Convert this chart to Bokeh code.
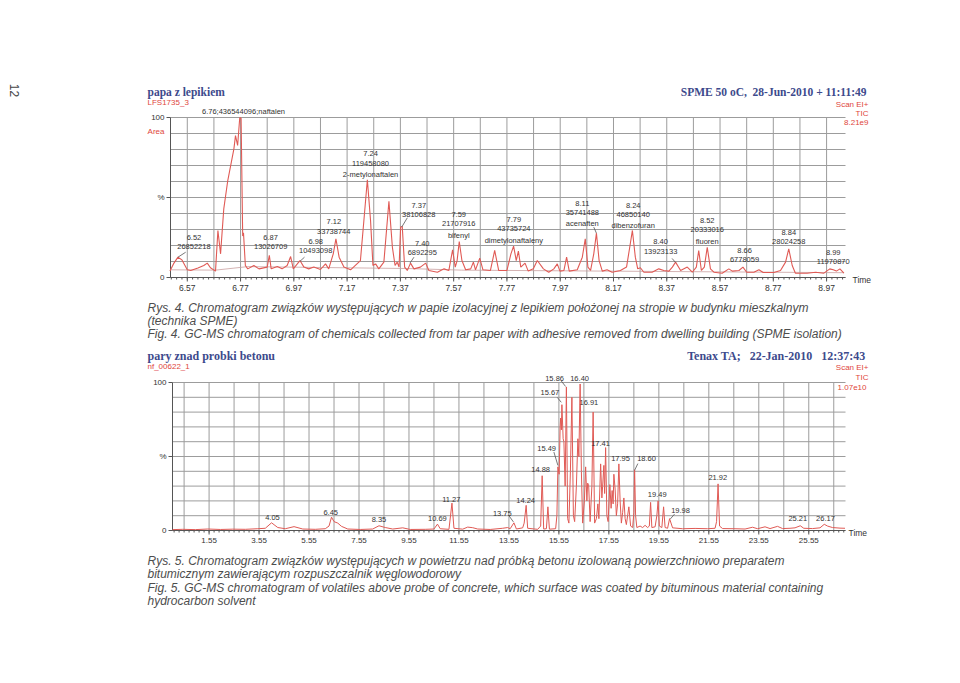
from math import pi
import numpy as np
from bokeh.plotting import figure
from bokeh.models import Range1d, Label, LabelSet, ColumnDataSource
from bokeh.layouts import column
from bokeh.core.properties import value
from bokeh.embed import file_html
from bokeh.resources import INLINE

# ---------------- chart 1 (SPME, tar paper) ----------------
rt1 = [6.505, 6.520, 6.535, 6.550, 6.570, 6.583, 6.610, 6.632, 6.645, 6.657, 6.676, 6.685,
       6.695, 6.707, 6.722, 6.745, 6.751, 6.759, 6.767, 6.772, 6.778, 6.781, 6.788, 6.797,
       6.820, 6.839, 6.870, 6.878, 6.885, 6.908, 6.926, 6.945, 6.958, 6.968, 6.983, 6.993,
       7.008, 7.026, 7.045, 7.070, 7.089, 7.101, 7.118, 7.128, 7.140, 7.158, 7.183, 7.220,
       7.233, 7.246, 7.258, 7.267, 7.277, 7.289, 7.308, 7.327, 7.340, 7.350, 7.358, 7.365,
       7.371, 7.377, 7.386, 7.396, 7.408, 7.421, 7.445, 7.465, 7.477, 7.509, 7.534, 7.552,
       7.566, 7.576, 7.583, 7.591, 7.601, 7.615, 7.634, 7.644, 7.652, 7.668, 7.680, 7.708,
       7.724, 7.739, 7.770, 7.785, 7.795, 7.805, 7.813, 7.822, 7.838, 7.850, 7.869, 7.884,
       7.907, 7.927, 7.946, 7.959, 7.969, 7.984, 7.994, 8.004, 8.034, 8.053, 8.064, 8.074,
       8.084, 8.096, 8.106, 8.116, 8.128, 8.146, 8.165, 8.196, 8.219, 8.231, 8.241, 8.252,
       8.261, 8.271, 8.284, 8.315, 8.340, 8.359, 8.378, 8.391, 8.403, 8.422, 8.447, 8.466,
       8.481, 8.490, 8.500, 8.511, 8.522, 8.534, 8.547, 8.578, 8.603, 8.616, 8.641, 8.656,
       8.670, 8.697, 8.716, 8.732, 8.772, 8.797, 8.816, 8.828, 8.841, 8.853, 8.897, 8.929,
       8.960, 8.982, 8.995, 9.007, 9.020, 9.035]
ab1 = [4.0, 9.0, 12.7, 11.0, 4.8, 4.4, 6.0, 7.5, 9.0, 6.1, 4.0, 29.4,
       14.8, 42.9, 60.6, 80.4, 88.7, 82.5, 100.0, 99.5, 25.9, 28.0, 7.5, 5.4,
       7.5, 5.4, 6.5, 13.8, 5.4, 6.9, 5.4, 7.5, 13.1, 5.4, 8.5, 10.6,
       6.5, 5.4, 6.5, 5.0, 8.5, 5.4, 14.8, 24.2, 12.7, 6.5, 4.8, 10.6,
       35.6, 61.1, 35.6, 7.5, 8.5, 5.4, 9.6, 47.7, 18.9, 7.5, 9.6, 6.5,
       31.5, 31.9, 6.5, 4.4, 9.0, 5.4, 6.5, 9.0, 4.4, 3.3, 5.4, 4.4,
       17.3, 6.5, 10.6, 22.5, 10.6, 4.8, 5.4, 9.6, 4.8, 12.1, 4.8, 4.4,
       16.9, 4.4, 4.4, 14.8, 19.6, 10.6, 16.5, 6.5, 9.0, 4.0, 5.4, 10.6,
       5.4, 3.3, 5.4, 8.5, 4.0, 4.4, 12.7, 4.0, 4.8, 12.7, 24.2, 6.5,
       4.4, 14.8, 27.7, 10.6, 4.0, 4.8, 3.3, 4.4, 6.5, 18.9, 29.4, 12.7,
       5.4, 6.1, 3.3, 3.3, 5.4, 4.4, 4.0, 6.5, 9.6, 4.4, 6.5, 3.3,
       6.5, 16.9, 4.4, 6.5, 18.9, 5.4, 3.3, 2.7, 5.4, 4.0, 4.4, 6.5,
       3.3, 3.3, 4.8, 3.1, 3.1, 4.4, 9.6, 17.9, 7.5, 2.7, 2.7, 3.3,
       2.7, 5.4, 4.8, 4.0, 5.4, 2.7]
base1_t = [6.505, 6.676, 6.797, 7.400, 7.600, 9.035]
base1_y = [4.8, 4.6, 6.8, 5.6, 4.6, 3.0]

peak1_t = [6.781, 6.595, 6.883, 7.052, 7.120, 7.258, 7.439, 7.452, 7.589, 7.796,
           8.053, 8.244, 8.347, 8.522, 8.662, 8.828, 8.995]
peak1_y = [106.3, 26.7, 26.7, 24.2, 36.3, 78.8, 46.4, 23.1, 40.8, 37.7,
           48.1, 46.7, 23.8, 37.1, 18.3, 29.8, 17.5]
peak1_txt = ["6.76;436544096;naftalen", "6.52\n26852218", "6.87\n13026709",
             "6.98\n10493098", "7.12\n33738744", "7.24\n119458080\n2-metylonaftalen",
             "7.37\n38106828", "7.40\n6892295", "7.59\n21707916\nbifenyl",
             "7.79\n43735724\ndimetylonaftaleny", "8.11\n35741488\nacenaften",
             "8.24\n46850140\ndibenzofuran", "8.40\n13923133", "8.52\n20333016\nfluoren",
             "8.66\n6778059", "8.84\n28024258", "8.99\n11970870"]
lead1_t0 = [6.564, 7.010, 7.396, 7.421, 8.096, 8.390]
lead1_y0 = [15.8, 12.7, 37.3, 12.7, 31.5, 11.9]
lead1_t1 = [6.535, 6.993, 7.375, 7.406, 8.106, 8.403]
lead1_y1 = [12.7, 10.1, 31.5, 9.0, 27.7, 9.4]
xtick1 = [6.57, 6.77, 6.97, 7.17, 7.37, 7.57, 7.77, 7.97, 8.17, 8.37, 8.57, 8.77, 8.97]
xtick1_lab = ["6.57", "6.77", "6.97", "7.17", "7.37", "7.57", "7.77", "7.97", "8.17",
              "8.37", "8.57", "8.77", "8.97"]

# ---------------- chart 2 (Tenax TA, concrete) ----------------
rt2 = [0.09, 0.5, 1.0, 1.5, 2.0, 2.5, 3.0, 3.5, 3.8, 4.05, 4.3, 4.6, 4.95, 5.3, 5.8, 6.2,
       6.35, 6.45, 6.55, 6.7, 6.85, 7.1, 7.6, 8.1, 8.35, 8.6, 8.9, 9.3, 9.6, 10.2, 10.55,
       10.69, 10.8, 11.15, 11.27, 11.35, 11.7, 11.9, 12.1, 12.3, 12.8, 13.3, 13.5, 13.6,
       13.75, 13.85, 14.1, 14.16, 14.24, 14.3, 14.7, 14.82, 14.88, 14.94, 15.05, 15.11,
       15.17, 15.42, 15.47, 15.51, 15.56, 15.6, 15.62, 15.65, 15.67, 15.72, 15.75, 15.8,
       15.85, 15.9, 15.95, 16.01, 16.07, 16.13, 16.18, 16.25, 16.31, 16.35, 16.40, 16.45,
       16.5, 16.57, 16.62, 16.67, 16.70, 16.74, 16.8, 16.87, 16.92, 16.98, 17.05, 17.11,
       17.15, 17.22, 17.27, 17.3, 17.35, 17.38, 17.42, 17.47, 17.52, 17.59, 17.64, 17.68,
       17.72, 17.75, 17.8, 17.85, 17.9, 17.95, 18.0, 18.05, 18.1, 18.15, 18.2, 18.25,
       18.3, 18.35, 18.42, 18.5, 18.55, 18.58, 18.62, 18.67, 18.8, 18.9, 19.0, 19.1,
       19.17, 19.22, 19.27, 19.4, 19.47, 19.52, 19.57, 19.67, 19.74, 19.8, 19.9, 19.98,
       20.1, 20.5, 21.0, 21.5, 21.8, 21.86, 21.92, 21.98, 22.1, 22.6, 23.0, 23.3, 23.5,
       23.8, 24.0, 24.3, 24.5, 24.8, 25.0, 25.21, 25.35, 25.7, 26.0, 26.17, 26.3, 26.5,
       26.8, 27.0]
ab2 = [0.6, 0.8, 0.6, 1.0, 0.7, 0.9, 0.8, 1.2, 1.5, 5.2, 2.0, 1.2, 2.6, 1.0, 0.8, 1.2,
       3.0, 9.0, 6.0, 5.0, 2.8, 1.0, 0.7, 1.0, 3.2, 2.0, 1.0, 1.8, 0.7, 0.8, 1.0,
       4.3, 1.2, 0.8, 18.5, 1.5, 0.9, 2.3, 1.9, 1.0, 0.7, 1.5, 2.0, 1.2,
       5.2, 1.0, 1.8, 5.0, 17.0, 1.5, 0.8, 3.0, 37.0, 1.0, 1.2, 16.0,
       0.9, 1.2, 10.0, 43.0, 38.0, 70.0, 76.0, 68.0, 85.0, 62.0, 60.0, 30.0,
       97.0, 8.0, 5.0, 40.0, 90.0, 10.0, 6.0, 30.0, 62.0, 50.0, 99.0, 40.0,
       5.0, 20.0, 43.0, 20.0, 32.0, 31.0, 6.0, 30.0, 80.0, 5.0, 8.0, 18.0,
       8.0, 45.0, 22.0, 30.0, 44.0, 25.0, 56.0, 10.0, 6.0, 31.0, 15.0, 27.0,
       18.0, 38.0, 28.0, 10.0, 18.0, 45.0, 20.0, 5.0, 12.0, 22.0, 8.0, 4.0,
       10.0, 16.0, 3.0, 2.0, 12.0, 41.0, 10.0, 2.0, 3.0, 2.0, 3.5, 2.0,
       3.0, 19.0, 2.0, 2.5, 10.0, 20.0, 3.0, 2.0, 16.0, 2.0, 1.5, 8.0,
       1.8, 1.2, 1.4, 1.2, 1.5, 6.0, 31.5, 3.0, 1.3, 1.2, 1.0, 2.2, 1.2,
       2.5, 1.3, 2.8, 1.3, 1.5, 1.8, 3.2, 1.5, 1.3, 1.8, 4.2, 3.0, 2.0,
       1.6, 1.5]
peak2_t = [4.086, 6.418, 8.35, 10.686, 11.246, 13.286, 14.218, 14.818, 15.058, 15.19,
           15.378, 16.378, 16.75, 17.218, 18.018, 19.058, 19.486, 20.418, 21.91, 25.11, 26.218]
peak2_y = [8.6, 12.4, 7.1, 8.2, 21.2, 11.3, 20.5, 40.9, 55.2, 93.3,
           103.0, 103.0, 86.6, 58.6, 48.5, 48.5, 24.3, 13.3, 35.5, 8.2, 8.2]
peak2_txt = ["4.05", "6.45", "8.35", "10.69", "11.27", "13.75", "14.24", "14.88", "15.49",
             "15.67", "15.86", "16.40", "16.91", "17.41", "17.95", "18.60", "19.49", "19.98",
             "21.92", "25.21", "26.17"]
lead2_t0 = [15.646, 15.486, 15.35, 18.71, 20.18, 13.55]
lead2_y0 = [101.0, 89.9, 53.0, 45.2, 11.1, 10.0]
lead2_t1 = [15.818, 15.646, 15.51, 18.58, 20.01, 13.73]
lead2_y1 = [97.3, 86.6, 44.0, 40.7, 7.8, 5.8]
xtick2 = [1.55, 3.55, 5.55, 7.55, 9.55, 11.55, 13.55, 15.55, 17.55, 19.55, 21.55, 23.55, 25.55]
xtick2_lab = ["1.55", "3.55", "5.55", "7.55", "9.55", "11.55", "13.55", "15.55", "17.55",
              "19.55", "21.55", "23.55", "25.55"]

ytick = [0, 50, 100]
ytick_lab = ["0", "%", "100"]
ygrid = [0, 10, 20, 30, 40, 50, 60, 70, 80, 90, 100]

caption1 = ["Rys. 4. Chromatogram związków występujących w papie izolacyjnej z lepikiem położonej na stropie w budynku mieszkalnym",
            "(technika SPME)",
            "Fig. 4. GC-MS chromatogram of chemicals collected from tar paper with adhesive removed from dwelling building (SPME isolation)"]
caption2 = ["Rys. 5. Chromatogram związków występujących w powietrzu nad próbką betonu izolowaną powierzchniowo preparatem",
            "bitumicznym zawierającym rozpuszczalnik węglowodorowy",
            "Fig. 5. GC-MS chromatogram of volatiles above probe of concrete, which surface was coated by bituminous material containing",
            "hydrocarbon solvent"]

# ---------------- styling ----------------
BLUE = "#3d4a8c"
RED = "#e0463c"
TRACE = "#e05a55"
GRID = "#9c9c9c"
AX = "#555555"
TXT = "#333333"
CAP = "#4d4d4d"
SANS = "Liberation Sans"
SERIF = "Liberation Serif"
W = 944
NB = "\u00a0"


class Panel:
    """A figure whose frame fills the canvas; the chart area is placed through the ranges."""

    def __init__(self, h, t0, t1, px0, px1, py0, ppu):
        self.sx = (px1 - px0) / (t1 - t0)
        self.ppu = ppu
        self.py0 = py0
        self.t0, self.t1 = t0, t1
        xs = t0 - px0 / self.sx
        ys = -(h - py0) / ppu
        self.xs = xs
        self.p = figure(width=W, height=h, x_range=Range1d(xs, xs + W / self.sx),
                        y_range=Range1d(ys, py0 / ppu), output_backend="svg",
                        toolbar_location=None, title=None, x_axis_location=None,
                        y_axis_location=None, min_border=0)
        self.p.outline_line_color = None
        self.p.grid.visible = False
        self.p.background_fill_color = "white"
        self.p.border_fill_color = "white"

    def at(self, px, py):
        return self.xs + px / self.sx, (self.py0 - py) / self.ppu

    def dx(self, pix):
        return pix / self.sx

    def dy(self, pix):
        return pix / self.ppu

    def text(self, px, py, s, size, color=TXT, font=SANS, align="left", style="normal",
             angle=0.0):
        x, y = self.at(px, py)
        self.p.add_layout(Label(x=x, y=y, text=s, text_font_size=size, text_color=color,
                                text_font=font, text_align=align, text_baseline="middle",
                                text_font_style=style, angle=angle))

    def axes(self, gridx, ticks, labels, minor, lab_size, lab_gap):
        p, t0, t1 = self.p, self.t0, self.t1
        n = len(gridx)
        p.segment(gridx, [0] * n, gridx, [100] * n, line_color=GRID, line_width=1)
        m = len(ygrid)
        p.segment([t0] * m, ygrid, [t1] * m, ygrid, line_color=GRID, line_width=1)
        p.segment([t0, t0], [0, 0], [t0, t1], [100, 0], line_color=AX, line_width=1)
        k = len(minor)
        p.segment(minor, [0] * k, minor, [-self.dy(2)] * k, line_color=AX, line_width=1)
        j = len(ticks)
        p.segment(ticks, [0] * j, ticks, [-self.dy(4)] * j, line_color=AX, line_width=1)
        p.text(ticks, [-self.dy(lab_gap)] * j, text=labels, text_font=value(SANS),
               text_font_size=value(lab_size), text_color=TXT, text_align="center",
               text_baseline="middle")
        q = len(ytick)
        p.segment([t0 - self.dx(4)] * q, ytick, [t0] * q, ytick, line_color=AX, line_width=1)
        p.text([t0 - self.dx(6)] * q, ytick, text=ytick_lab, text_font=value(SANS),
               text_font_size=value("8px"), text_color=TXT, text_align="right",
               text_baseline="middle")

    def peaks(self, xs, ys, texts, size, baseline, line_h):
        rx, ry, rt, rdy = [], [], [], []
        for x, y, t in zip(xs, ys, texts):
            for i, line in enumerate(t.split("\n")):
                rx.append(x); ry.append(y); rt.append(line); rdy.append(-i * line_h)
        src = ColumnDataSource(dict(x=rx, y=ry, text=rt, dy=rdy))
        self.p.add_layout(LabelSet(x="x", y="y", text="text", y_offset="dy", source=src,
                                   text_font_size=value(size), text_color=TXT,
                                   text_font=value(SANS), text_align="center",
                                   text_baseline=baseline))


# ---------------- figure 1 ----------------
c1 = Panel(345, 6.507, 9.041, 170, 845, 277, 1.6)
c1.axes(list(np.round(np.arange(6.57, 9.0, 0.1), 2)), xtick1, xtick1_lab,
        list(np.round(np.arange(6.51, 9.041, 0.02), 2)), "8.5px", 10)
p1 = c1.p
p1.line(base1_t, base1_y, line_color="#c9a0a0", line_width=0.8)
p1.line(rt1, ab1, line_color=TRACE, line_width=1.1)
p1.segment(lead1_t0, lead1_y0, lead1_t1, lead1_y1, line_color=AX, line_width=0.8)
c1.peaks(peak1_t, peak1_y, peak1_txt, "7.5px", "top", 9.2)

c1.text(147, 91, "papa z lepikiem", "11.5px", BLUE, SERIF, style="bold")
c1.text(147, 102, "LFS1735_3", "8px", RED)
c1.text(866, 91, "SPME 50 oC," + NB + " 28-Jun-2010 + 11:11:49", "11.5px", BLUE, SERIF,
        align="right", style="bold")
c1.text(868, 104.3, "Scan EI+", "8px", RED, align="right")
c1.text(868, 112.7, "TIC", "8px", RED, align="right")
c1.text(868, 121.7, "8.21e9", "8px", RED, align="right")
c1.text(164, 131, "Area", "8px", RED, align="right")
c1.text(852, 279, "Time", "8.5px", TXT)
c1.text(14, 90, "12", "12px", "#444444", align="center", angle=-pi / 2)
for i, line in enumerate(caption1):
    c1.text(147, 307 + 13.3 * i, line, "12px", CAP, SANS, style="italic")

# ---------------- figure 2 (page y offset 345) ----------------
OFF = 345
c2 = Panel(322, 0.086, 27.02, 172, 845, 530 - OFF, 1.48)
c2.axes(list(np.arange(0.55, 27.0, 1.0)), xtick2, xtick2_lab,
        list(np.round(np.arange(0.15, 27.0, 0.2), 2)), "8px", 9.5)
p2 = c2.p
p2.line(rt2, ab2, line_color=TRACE, line_width=1.0)
p2.segment(lead2_t0, lead2_y0, lead2_t1, lead2_y1, line_color=AX, line_width=0.8)
c2.peaks(peak2_t, peak2_y, peak2_txt, "7.5px", "middle", 9.0)

c2.text(147, 355 - OFF, "pary znad probki betonu", "12px", BLUE, SERIF, style="bold")
c2.text(147, 366 - OFF, "nf_00622_1", "8px", RED)
c2.text(865, 355 - OFF, "Tenax TA;" + NB * 3 + "22-Jan-2010" + NB * 3 + "12:37:43", "12px",
        BLUE, SERIF, align="right", style="bold")
c2.text(868, 366.7 - OFF, "Scan EI+", "8px", RED, align="right")
c2.text(868, 377.3 - OFF, "TIC", "8px", RED, align="right")
c2.text(866, 386.7 - OFF, "1.07e10", "8px", RED, align="right")
c2.text(848, 532 - OFF, "Time", "8.5px", TXT)
for i, line in enumerate(caption2):
    c2.text(147, 560 + 13.5 * i - OFF, line, "12px", CAP, SANS, style="italic")

layout = column(p1, p2, spacing=0)
open("out.html", "w").write(file_html(layout, INLINE))
